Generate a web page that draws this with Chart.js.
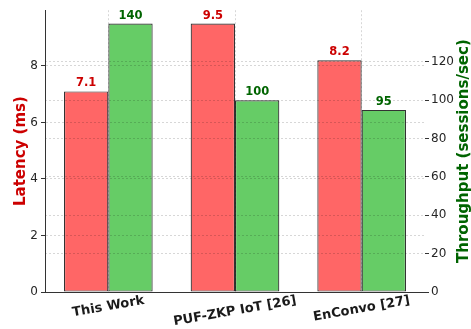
<!DOCTYPE html>
<html>
<head>
<meta charset="utf-8">
<script src="https://cdn.jsdelivr.net/npm/chart.js@4.4.1/dist/chart.umd.min.js"></script>
<style>
  body { margin: 0; background: #fff; }
  canvas { display: block; }
</style>
</head>
<body>
<canvas id="perfChart" width="471" height="329"></canvas>
<script>
// values
const categories = ['This Work', 'PUF-ZKP IoT [26]', 'EnConvo [27]'];
const latencyMs = [7.1, 9.5, 8.2];
const throughputSps = [140, 100, 95];
const latencyStep = 2;
const throughputStep = 20;

const RED_FILL = '#ff6666';
const GREEN_FILL = '#66cc66';
const RED_TEXT = '#cc0000';
const GREEN_TEXT = '#006400';
const FONT = '"DejaVu Sans", sans-serif';

Chart.defaults.font.family = FONT;

// dashed grid, drawn over the bars like the original
function gridOpts(extra) {
    return Object.assign({
        color: 'rgba(0,0,0,0.2)',
        lineWidth: 0.8,
        z: 1,
        tickBorderDash: [],
        tickColor: '#333',
        tickWidth: 1,
        tickLength: 4
    }, extra);
}

// border layer must come after the grid layer (it reuses the grid's position)
function borderOpts(show) {
    return { display: show, color: '#333', width: 1, dash: [2, 2], z: 2 };
}

// value labels, slanted category names and right axis title
const overlayPlugin = {
    id: 'overlay',
    afterDraw(chart) {
        const ctx = chart.ctx;
        const area = chart.chartArea;
        const xScale = chart.scales.x;
        ctx.save();

        ctx.font = 'bold 11.5px ' + FONT;
        ctx.textAlign = 'center';
        ctx.textBaseline = 'alphabetic';
        chart.data.datasets.forEach((ds, di) => {
            const meta = chart.getDatasetMeta(di);
            ctx.fillStyle = ds.valueColor;
            meta.data.forEach((bar, i) => {
                ctx.fillText(ds.valueText[i], bar.x, bar.y - 5);
            });
        });

        ctx.font = 'bold 13px ' + FONT;
        ctx.fillStyle = '#1a1a1a';
        const rot = 10 * Math.PI / 180;
        categories.forEach((label, i) => {
            const x = xScale.getPixelForTick(i);
            const w = ctx.measureText(label).width;
            const boxH = w * Math.sin(rot) + 13 * Math.cos(rot);
            ctx.save();
            ctx.translate(x, area.bottom + 2 + boxH / 2);
            ctx.rotate(-rot);
            ctx.textAlign = 'center';
            ctx.textBaseline = 'middle';
            ctx.fillText(label, 0, 0);
            ctx.restore();
        });

        ctx.font = 'bold 15px ' + FONT;
        ctx.fillStyle = GREEN_TEXT;
        ctx.translate(464, (area.top + area.bottom) / 2);
        ctx.rotate(-Math.PI / 2);
        ctx.textAlign = 'center';
        ctx.textBaseline = 'middle';
        ctx.fillText('Throughput (sessions/sec)', 0, 0);
        ctx.restore();
    }
};

const ctx = document.getElementById('perfChart').getContext('2d');
const chart = new Chart(ctx, {
    type: 'bar',
    data: {
        labels: categories,
        datasets: [{
            label: 'Latency (ms)',
            data: latencyMs,
            yAxisID: 'y',
            backgroundColor: RED_FILL,
            borderColor: '#333',
            borderWidth: 1.2,
            borderSkipped: false,
            valueColor: RED_TEXT,
            valueText: latencyMs.map(v => v.toFixed(1))
        }, {
            label: 'Throughput (sessions/sec)',
            data: throughputSps,
            yAxisID: 'y2',
            backgroundColor: GREEN_FILL,
            borderColor: '#333',
            borderWidth: 1.2,
            borderSkipped: false,
            valueColor: GREEN_TEXT,
            valueText: throughputSps.map(v => String(v))
        }]
    },
    options: {
        responsive: false,
        animation: false,
        categoryPercentage: 0.7,
        barPercentage: 1.0,
        layout: { padding: { top: 10, left: 0, right: 0, bottom: 0 } },
        plugins: {
            legend: { display: false },
            tooltip: { enabled: false }
        },
        scales: {
            x: {
                grid: gridOpts({ offset: false, drawTicks: false }),
                border: borderOpts(true),
                ticks: { display: false },
                afterFit: (scale) => { scale.height = 37; }
            },
            y: {
                position: 'left',
                min: 0,
                max: Math.max(...latencyMs) * 1.05,
                grid: gridOpts(),
                border: borderOpts(true),
                ticks: {
                    stepSize: latencyStep,
                    color: '#262626',
                    font: { size: 12 },
                    padding: 3
                },
                afterBuildTicks: (scale) => {
                    scale.ticks = scale.ticks.filter(t => t.value % latencyStep === 0);
                },
                title: {
                    display: true,
                    text: 'Latency (ms)',
                    color: RED_TEXT,
                    font: { size: 15, weight: 'bold' },
                    padding: { top: 12, bottom: 0 }
                },
                afterFit: (scale) => { scale.width = 45; }
            },
            y2: {
                position: 'right',
                min: 0,
                max: Math.max(...throughputSps) * 1.05,
                grid: gridOpts(),
                border: borderOpts(false),
                ticks: {
                    stepSize: throughputStep,
                    color: '#262626',
                    font: { size: 12 },
                    padding: 2
                },
                afterBuildTicks: (scale) => {
                    scale.ticks = scale.ticks.filter(t => t.value % throughputStep === 0);
                },
                afterFit: (scale) => { scale.width = 46; }
            }
        }
    },
    plugins: [overlayPlugin]
});
</script>
</body>
</html>
